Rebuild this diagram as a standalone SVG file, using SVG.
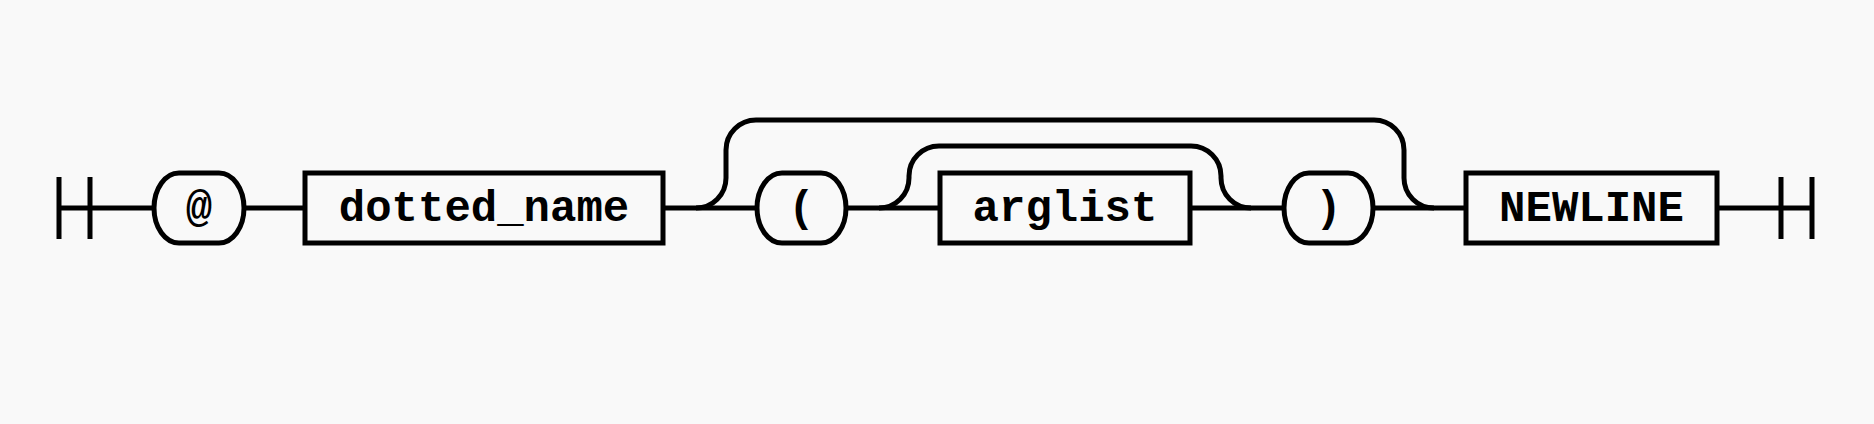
<svg xmlns="http://www.w3.org/2000/svg" width="1874" height="424" viewBox="0 0 1874 424">
<style>
.bg{fill:#f9f9f9}
.line{fill:none;stroke:#000;stroke-width:5}
.node{fill:#f9f9f9;stroke:#000;stroke-width:5}
.t{font-family:"Liberation Mono","DejaVu Sans Mono",monospace;font-weight:bold;font-size:44px;text-anchor:middle;fill:#000}
</style>
<rect class="bg" x="0" y="0" width="1874" height="424"/>
<g id="connectors">
<path class="line" d="M59 177V239M90 177V239M59 208H154"/>
<path class="line" d="M244 208H305"/>
<path class="line" d="M663 208H757"/>
<path class="line" d="M696 208A30 30 0 0 0 726 178V150A30 30 0 0 1 756 120H1374A30 30 0 0 1 1404 150V178A30 30 0 0 0 1434 208"/>
<path class="line" d="M846 208H940"/>
<path class="line" d="M879 208A30 30 0 0 0 909 178V176A30 30 0 0 1 939 146H1191A30 30 0 0 1 1221 176V178A30 30 0 0 0 1251 208"/>
<path class="line" d="M1190 208H1284"/>
<path class="line" d="M1373 208H1466"/>
<path class="line" d="M1717 208H1812M1781 177V239M1812 177V239"/>
</g>
<g id="n-at"><rect class="node" x="154" y="173" width="90" height="70" rx="25" ry="35"/><text class="t" x="199" y="221">@</text></g>
<g id="n-dotted_name"><rect class="node" x="305" y="173" width="358" height="70"/><text class="t" x="484" y="221">dotted_name</text></g>
<g id="n-lparen"><rect class="node" x="757" y="173" width="89" height="70" rx="25" ry="35"/><text class="t" x="801.5" y="221">(</text></g>
<g id="n-arglist"><rect class="node" x="940" y="173" width="250" height="70"/><text class="t" x="1065" y="221">arglist</text></g>
<g id="n-rparen"><rect class="node" x="1284" y="173" width="89" height="70" rx="25" ry="35"/><text class="t" x="1328.5" y="221">)</text></g>
<g id="n-newline"><rect class="node" x="1466" y="173" width="251" height="70"/><text class="t" x="1591.5" y="221">NEWLINE</text></g>
</svg>
